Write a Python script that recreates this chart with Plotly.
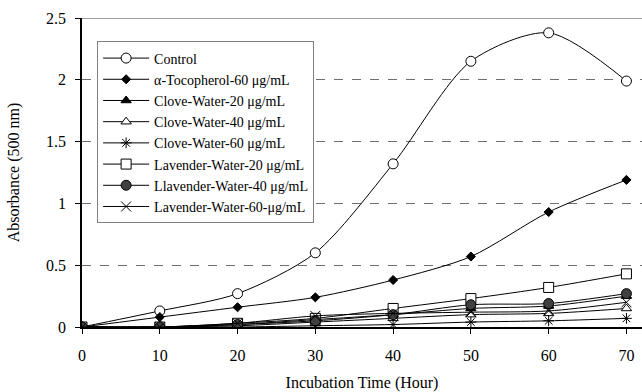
import plotly.graph_objects as go

hours = [0, 10, 20, 30, 40, 50, 60, 70]
control = [0, 0.13, 0.27, 0.60, 1.32, 2.15, 2.38, 1.99]
tocopherol = [0, 0.08, 0.16, 0.24, 0.38, 0.57, 0.93, 1.19]
clove20 = [0, 0, 0.02, 0.06, 0.10, 0.15, 0.17, 0.25]
clove40 = [0, 0, 0.01, 0.04, 0.07, 0.10, 0.11, 0.15]
clove60 = [0, 0, 0, 0.01, 0.02, 0.04, 0.05, 0.07]
lav20 = [0, 0, 0.03, 0.07, 0.15, 0.23, 0.32, 0.43]
lav40 = [0, 0, 0.02, 0.05, 0.10, 0.18, 0.19, 0.27]
lav60 = [0, 0, 0.03, 0.09, 0.11, 0.12, 0.13, 0.20]

names = [
    "Control",
    "α-Tocopherol-60 μg/mL",
    "Clove-Water-20 μg/mL",
    "Clove-Water-40 μg/mL",
    "Clove-Water-60 μg/mL",
    "Lavender-Water-20 μg/mL",
    "Llavender-Water-40 μg/mL",
    "Lavender-Water-60-μg/mL",
]
series = [control, tocopherol, clove20, clove40, clove60, lav20, lav40, lav60]
styles = [
    dict(symbol="circle", size=10, color="white"),
    dict(symbol="diamond", size=7, color="black"),
    dict(symbol="triangle-up", size=9, color="black"),
    dict(symbol="triangle-up", size=9, color="white"),
    dict(symbol="asterisk-open", size=9, color="black"),
    dict(symbol="square", size=10, color="white"),
    dict(symbol="circle", size=10, color="#404040"),
    dict(symbol="x-thin-open", size=10, color="black"),
]

fig = go.Figure()
for name, vals, st in zip(names, series, styles):
    fig.add_trace(go.Scatter(
        x=hours, y=vals, name=name, mode="lines+markers",
        line=dict(color="black", width=1, shape="spline", smoothing=0.8),
        marker=dict(symbol=st["symbol"], size=st["size"], color=st["color"],
                    line=dict(color="black", width=1)),
    ))

serif = "Liberation Serif, Times New Roman, serif"
fig.add_shape(type="line", xref="paper", yref="y", x0=0, x1=1, y0=2.5, y1=2.5,
              line=dict(color="#808080", width=1.5), layer="below")
fig.update_layout(
    width=642, height=392,
    margin=dict(l=82, r=0, t=18, b=65),
    paper_bgcolor="white", plot_bgcolor="white",
    font=dict(family=serif, size=16, color="black"),
    showlegend=True,
    legend=dict(
        x=0.027, y=0.924, xanchor="left", yanchor="top",
        bgcolor="white", bordercolor="#808080", borderwidth=1,
        font=dict(family=serif, size=14, color="black"),
        tracegroupgap=0, itemwidth=46,
    ),
    xaxis=dict(
        range=[0, 72], tickvals=hours, ticks="outside", ticklen=5,
        tickcolor="black", showline=True, linecolor="black", linewidth=1.5,
        showgrid=False, zeroline=False, ticklabelstandoff=8,
        title=dict(text="Incubation Time (Hour)", font=dict(size=16), standoff=14),
    ),
    yaxis=dict(
        range=[0, 2.5], tickvals=[0, 0.5, 1, 1.5, 2, 2.5],
        ticktext=["0", "0.5", "1", "1.5", "2", "2.5"],
        ticks="outside", ticklen=5, tickcolor="black",
        showline=True, linecolor="black", linewidth=1.5,
        showgrid=True, gridcolor="#707070", griddash="dash", gridwidth=1,
        zeroline=False, ticklabelstandoff=6,
        title=dict(text="Absorbance (500 nm)", font=dict(size=16), standoff=22),
    ),
)
fig.write_html("out.html")
